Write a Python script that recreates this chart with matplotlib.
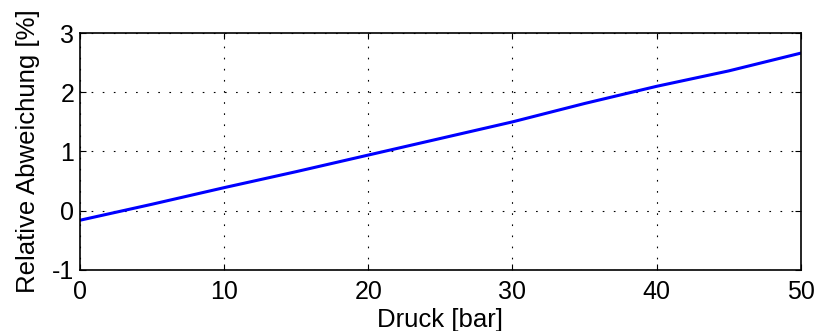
import matplotlib
matplotlib.use("Agg")
import matplotlib.pyplot as plt

# Druck in bar und relative Abweichung in %
druck = [0, 5, 10, 15, 20, 25, 30, 35, 40, 45, 50]
abweichung = [-0.16, 0.11, 0.39, 0.66, 0.94, 1.22, 1.50, 1.81, 2.10, 2.36, 2.66]

x_ticks = [0, 10, 20, 30, 40, 50]
y_ticks = [-1, 0, 1, 2, 3]

plt.rcParams['font.family'] = ['Liberation Sans', 'DejaVu Sans']
plt.rcParams['axes.unicode_minus'] = False

fig = plt.figure(figsize=(8.14, 3.31), dpi=100)
ax = fig.add_axes([0.0983, 0.1843, 0.8854, 0.716])

ax.plot(druck, abweichung, color=(0, 0, 1), linewidth=2.2)

ax.set_xlim(0, 50)
ax.set_ylim(-1, 3)
ax.set_xticks(x_ticks)
ax.set_yticks(y_ticks)

# MATLAB-artiges gepunktetes Gitter
ax.grid(True, linestyle=(0, (1.5, 8.5)), color='black', linewidth=0.8)
ax.tick_params(direction='in', top=True, right=True, length=4, width=0.8,
               labelsize=18)
ax.tick_params(axis='x', pad=7)
ax.tick_params(axis='y', pad=4)
for s in ax.spines.values():
    s.set_linewidth(1.2)

ax.set_xlabel('Druck [bar]', fontsize=18.5, labelpad=3)
ax.set_ylabel('Relative Abweichung [%]', fontsize=18.5, labelpad=9)

fig.savefig('out.png', dpi=100)
